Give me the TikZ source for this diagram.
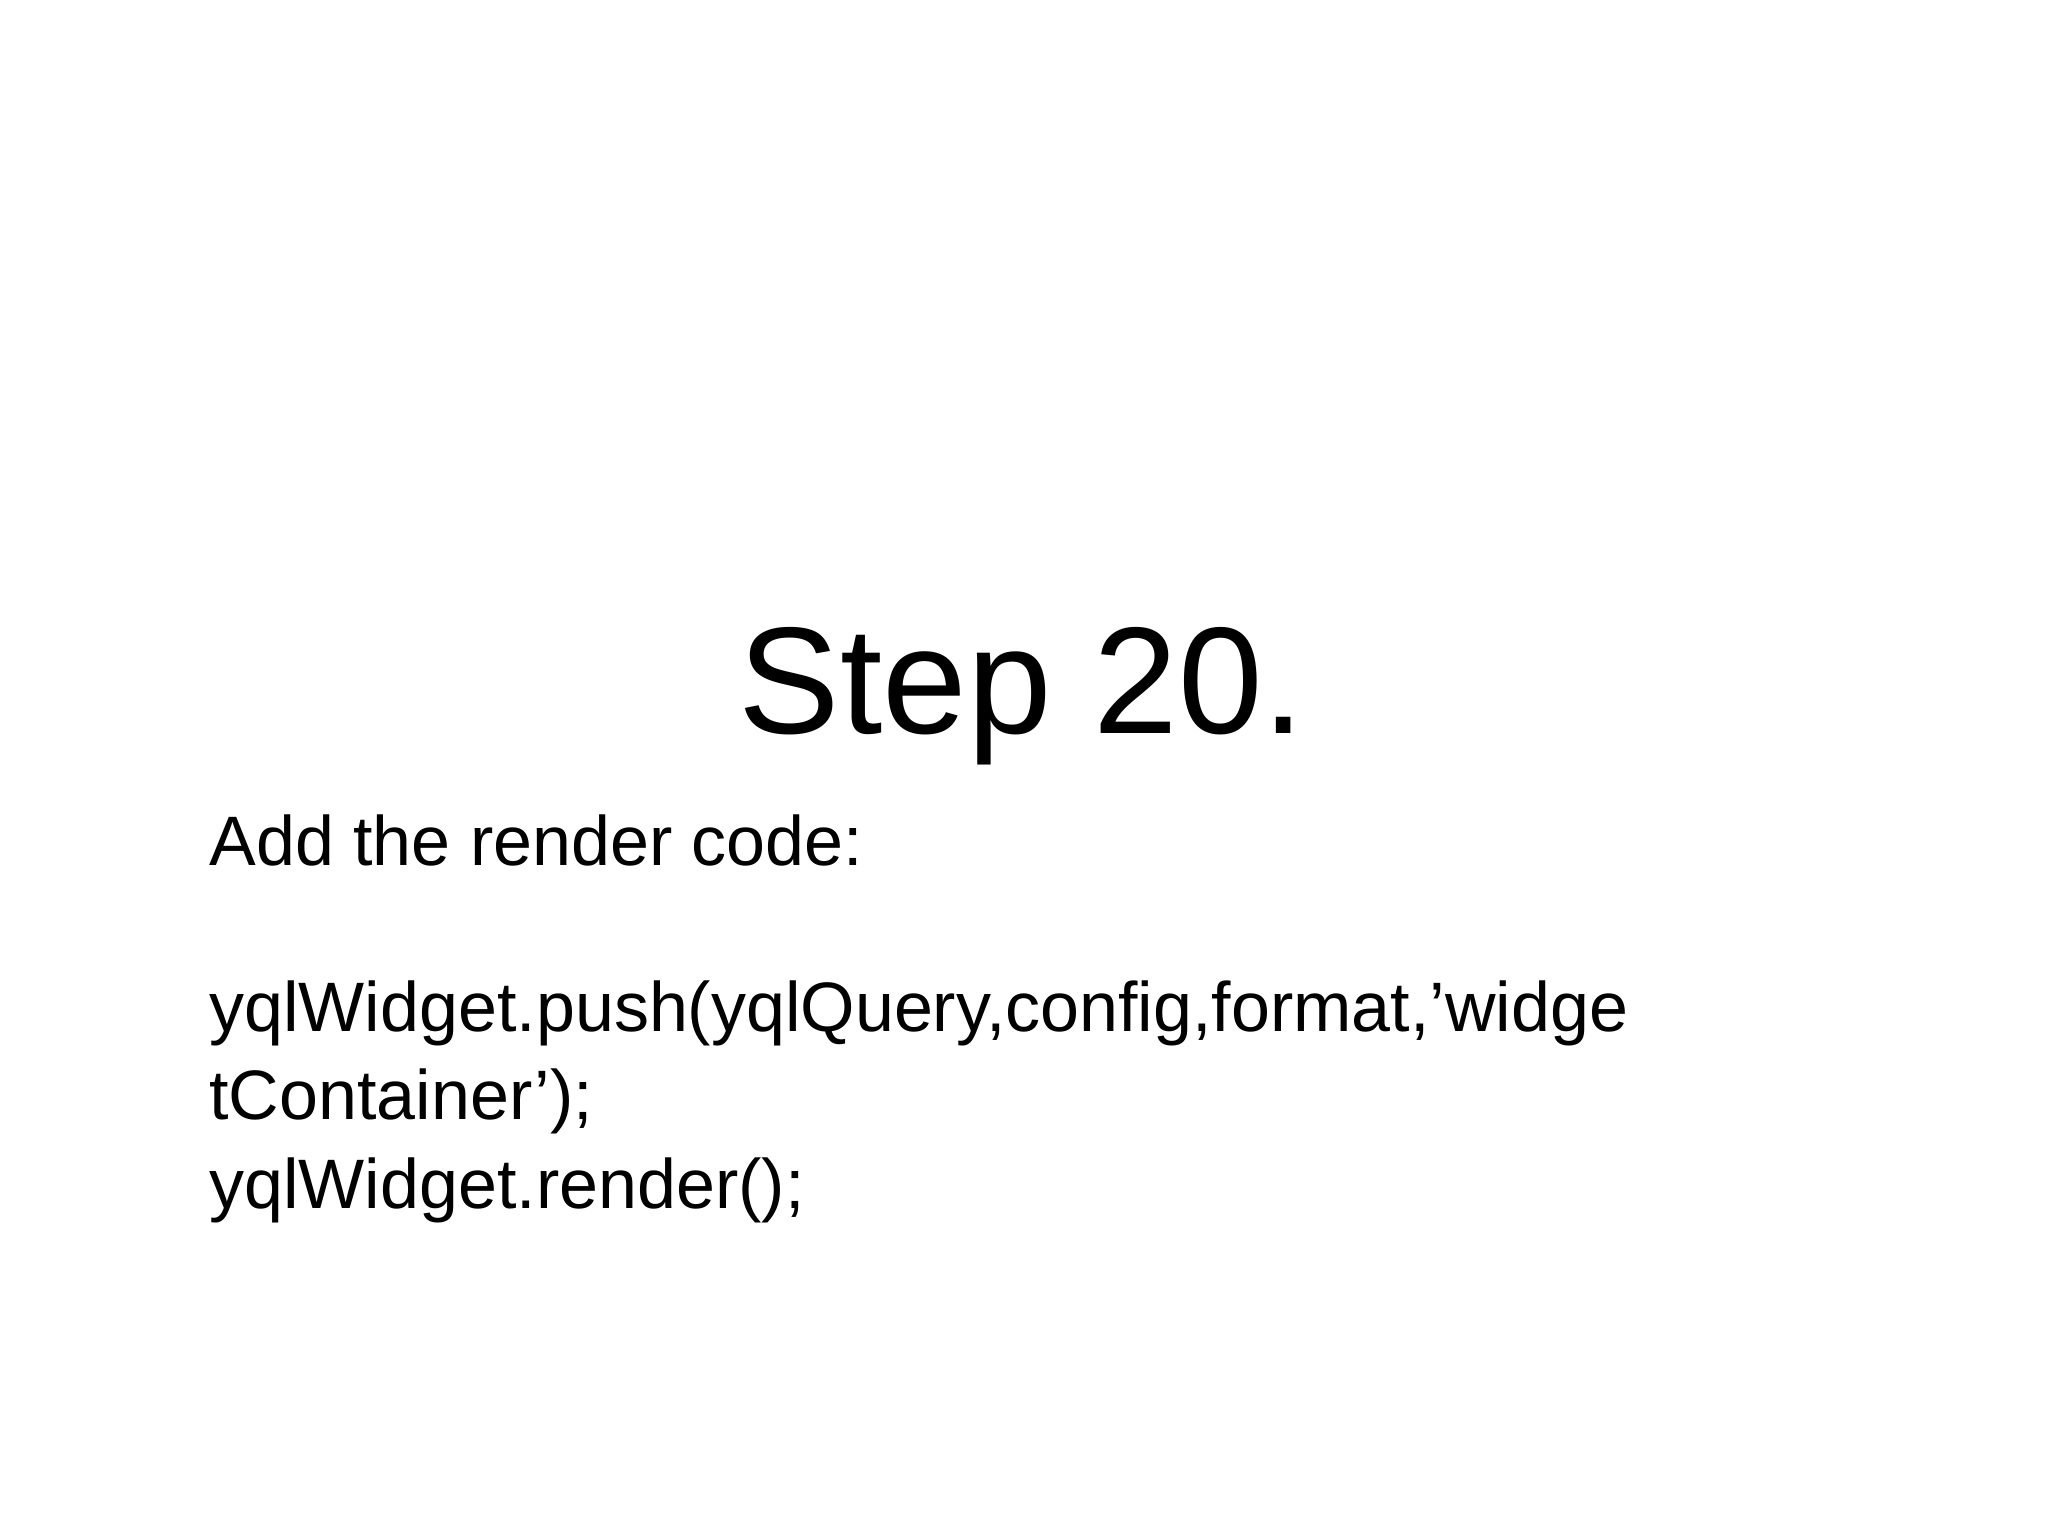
\documentclass[tikz,border=0pt]{standalone}
\usepackage{fontspec}
\setmainfont{Liberation Sans}
\begin{document}
\begin{tikzpicture}[x=1pt,y=1pt,
  body/.style={anchor=base west,inner sep=0pt,font=\fontsize{35}{40}\selectfont}]
\useasboundingbox (0,0) rectangle (1024,768);
\node[anchor=base,inner sep=0pt,font=\fontsize{76}{80}\selectfont] (title) at (511,401) {Step 20.};
\node[body] (intro) at (104.5,335) {Add the render code:};
\node[body] (l1) at (104.5,252) {yqlWidget.push(yqlQuery,config,format,'widge};
\node[body] (l2) at (104.5,208) {tContainer');};
\node[body] (l3) at (104.5,164) {yqlWidget.render();};
\end{tikzpicture}
\end{document}
